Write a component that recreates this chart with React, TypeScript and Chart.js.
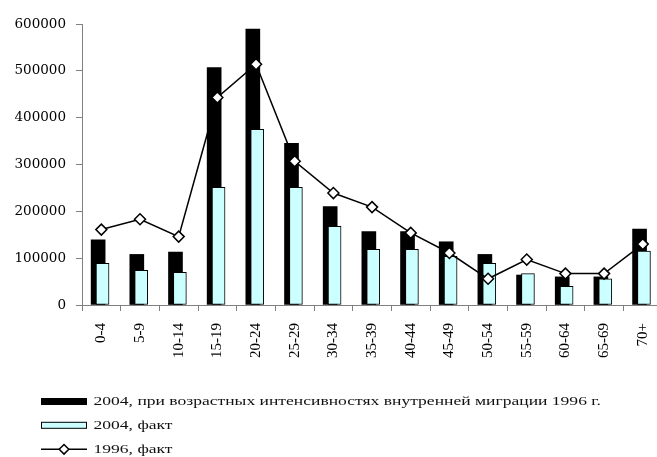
import React, { useEffect, useRef } from "react";
import { Chart, registerables } from "chart.js";

Chart.register(...registerables);

const categories = ["0-4", "5-9", "10-14", "15-19", "20-24", "25-29", "30-34", "35-39", "40-44", "45-49", "50-54", "55-59", "60-64", "65-69", "70+"];
const projected2004 = [139000, 108000, 113000, 507000, 589000, 345000, 210000, 157000, 157000, 135000, 108000, 64000, 60000, 60000, 162000];
const actual2004 = [89000, 74000, 70000, 251000, 375000, 251000, 168000, 119000, 119000, 104000, 89000, 67000, 40000, 56000, 115000];
const actual1996 = [161000, 183000, 146000, 443000, 514000, 307000, 239000, 209000, 154000, 111000, 56000, 97000, 67000, 67000, 130000];
const seriesLabels = [
  "2004, при возрастных интенсивностях внутренней миграции 1996 г.",
  "2004, факт",
  "1996, факт",
];
const yMin = 0;
const yMax = 600000;
const yStep = 100000;

const AXIS_GREY = "#808080";

const barShiftPlugin = {
  id: "barShift",
  afterDatasetsUpdate(chart: any, _args: any, opts: any) {
    chart.data.datasets.forEach((_d: any, i: number) => {
      const shift = (opts.shifts && opts.shifts[i]) || 0;
      if (!shift) return;
      chart.getDatasetMeta(i).data.forEach((el: any) => {
        el.x += shift;
      });
    });
  },
};

const refLegendPlugin = {
  id: "refLegend",
  afterDraw(chart: any, _args: any, opts: any) {
    const ctx = chart.ctx as CanvasRenderingContext2D;
    const datasets = chart.data.datasets;
    ctx.save();
    datasets.forEach((ds: any, i: number) => {
      const y = opts.rows[i];
      const bx = opts.boxX;
      const bw = opts.boxW;
      const bh = opts.boxH;
      if (ds.type === "line") {
        ctx.beginPath();
        ctx.strokeStyle = ds.borderColor;
        ctx.lineWidth = ds.borderWidth;
        ctx.moveTo(bx, y);
        ctx.lineTo(bx + bw, y);
        ctx.stroke();
        const cx = bx + bw / 2;
        const r = opts.markerR;
        ctx.beginPath();
        ctx.moveTo(cx, y - r);
        ctx.lineTo(cx + r, y);
        ctx.lineTo(cx, y + r);
        ctx.lineTo(cx - r, y);
        ctx.closePath();
        ctx.fillStyle = ds.pointBackgroundColor;
        ctx.fill();
        ctx.lineWidth = ds.pointBorderWidth;
        ctx.strokeStyle = ds.pointBorderColor;
        ctx.stroke();
      } else {
        ctx.fillStyle = ds.backgroundColor;
        ctx.fillRect(bx, y - bh / 2, bw, bh);
        if (ds.borderWidth) {
          ctx.lineWidth = 1;
          ctx.strokeStyle = ds.borderColor;
          ctx.strokeRect(bx + 0.5, y - bh / 2 + 0.5, bw - 1, bh - 1);
        }
      }
      ctx.save();
      ctx.translate(opts.textX, y);
      ctx.scale(opts.stretch, 1);
      ctx.font = opts.font;
      ctx.fillStyle = "#111";
      ctx.textBaseline = "middle";
      ctx.textAlign = "left";
      ctx.fillText(ds.label, 0, 0);
      ctx.restore();
    });
    ctx.restore();
  },
};

export default function App() {
  const canvasRef = useRef<HTMLCanvasElement | null>(null);

  useEffect(() => {
    if (!canvasRef.current) return;
    const chart = new Chart(canvasRef.current, {
      type: "bar",
      data: {
        labels: categories,
        datasets: [
          {
            type: "bar",
            label: seriesLabels[0],
            data: projected2004,
            backgroundColor: "#000000",
            borderWidth: 0,
            barThickness: 14,
            grouped: false,
            order: 2,
          } as any,
          {
            type: "bar",
            label: seriesLabels[1],
            data: actual2004,
            backgroundColor: "#ccffff",
            borderColor: "#000000",
            borderWidth: 1,
            borderSkipped: false,
            barThickness: 13,
            grouped: false,
            order: 1,
          } as any,
          {
            type: "line",
            label: seriesLabels[2],
            data: actual1996,
            borderColor: "#000000",
            borderWidth: 1.5,
            tension: 0,
            pointStyle: "rectRot",
            pointRadius: 5.5,
            pointBorderWidth: 1.5,
            pointBorderColor: "#000000",
            pointBackgroundColor: "#ffffff",
            order: 0,
          } as any,
        ],
      },
      options: {
        animation: false,
        responsive: false,
        events: [],
        layout: { padding: { top: 24, left: 0, right: 0, bottom: 0 } },
        plugins: {
          legend: { display: false },
          tooltip: { enabled: false },
          barShift: { shifts: [-3.2, 1.2, 0] },
          refLegend: {
            rows: [401.5, 425.3, 449.3],
            boxX: 41,
            boxW: 46,
            boxH: 7,
            markerR: 4.8,
            textX: 93.5,
            stretch: 1.3,
            font: '13.5px "Liberation Serif", "Times New Roman", serif',
          },
        } as any,
        scales: {
          x: {
            type: "category",
            offset: true,
            ticks: {
              autoSkip: false,
              maxRotation: 90,
              minRotation: 90,
              padding: 12,
              color: "#000",
              font: { family: '"Liberation Serif", "Times New Roman", serif', size: 15 },
            },
            grid: {
              display: true,
              offset: true,
              drawOnChartArea: false,
              drawTicks: true,
              tickLength: 6,
              color: AXIS_GREY,
            },
            border: { display: true, color: AXIS_GREY, width: 1 },
            afterFit: (s: any) => {
              s.height = 457 - 305;
            },
          },
          y: {
            type: "linear",
            min: yMin,
            max: yMax,
            ticks: {
              stepSize: yStep,
              padding: 10,
              color: "#000",
              font: { family: '"DejaVu Serif", serif', size: 13.5 },
              callback: (v: any) => String(v),
            },
            grid: {
              display: true,
              drawOnChartArea: false,
              drawTicks: true,
              tickLength: 6,
              color: AXIS_GREY,
            },
            border: { display: true, color: AXIS_GREY, width: 1 },
            afterFit: (s: any) => {
              s.width = 82;
            },
          },
        },
      },
      plugins: [barShiftPlugin, refLegendPlugin],
    });
    return () => chart.destroy();
  }, []);

  return (
    <div
      style={{
        position: "absolute",
        left: 0,
        top: 0,
        width: 657,
        height: 457,
        overflow: "hidden",
        background: "#fff",
      }}
    >
      <canvas ref={canvasRef} width={673} height={457} />
    </div>
  );
}
